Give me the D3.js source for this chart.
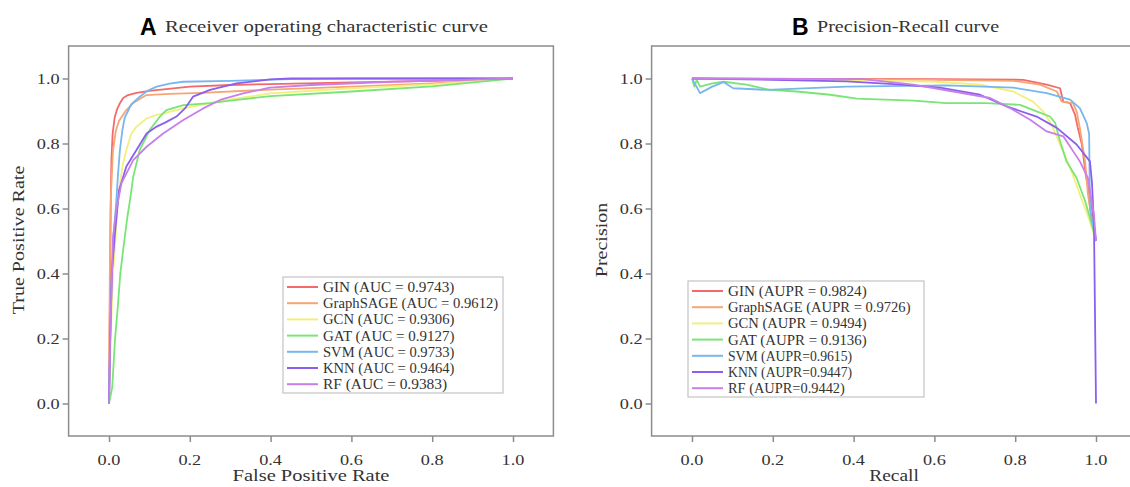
<!DOCTYPE html>
<html><head><meta charset="utf-8">
<script src="https://cdn.jsdelivr.net/npm/d3@7/dist/d3.min.js"></script>
<style>
html,body{margin:0;padding:0;background:#fff;}
svg{display:block;}
</style></head>
<body><svg id="chart" width="1130" height="487"></svg>
<script>
// ---------- data ----------
const models = ["GIN","GraphSAGE","GCN","GAT","SVM","KNN","RF"];
const colors = ["#f26a6a","#f6a575","#f3ef7e","#79e575","#78b6ee","#8b5ef0","#c77fe9"];
const aucLabels = ["GIN (AUC = 0.9743)","GraphSAGE (AUC = 0.9612)","GCN (AUC = 0.9306)","GAT (AUC = 0.9127)","SVM (AUC = 0.9733)","KNN (AUC = 0.9464)","RF (AUC = 0.9383)"];
const auprLabels = ["GIN (AUPR = 0.9824)","GraphSAGE (AUPR = 0.9726)","GCN (AUPR = 0.9494)","GAT (AUPR = 0.9136)","SVM (AUPR=0.9615)","KNN (AUPR=0.9447)","RF (AUPR=0.9442)"];
const ticks = [0.0,0.2,0.4,0.6,0.8,1.0];

// ROC curves [FPR, TPR]
const rocGIN = [[0,0],[0.002,0.3],[0.004,0.6],[0.006,0.75],[0.009,0.83],[0.014,0.88],[0.02,0.905],[0.027,0.924],[0.035,0.94],[0.047,0.949],[0.068,0.956],[0.1,0.962],[0.2,0.975],[0.3,0.98],[0.4,0.983],[0.6,0.988],[0.8,0.993],[1,1]];
const rocGraphSAGE = [[0,0],[0.002,0.4],[0.005,0.65],[0.01,0.78],[0.017,0.84],[0.025,0.87],[0.043,0.903],[0.06,0.925],[0.08,0.94],[0.093,0.949],[0.15,0.953],[0.23,0.956],[0.4,0.966],[0.6,0.975],[0.8,0.985],[1,1]];
const rocGCN = [[0,0],[0.004,0.2],[0.01,0.4],[0.016,0.5],[0.02,0.6],[0.027,0.678],[0.035,0.74],[0.043,0.78],[0.055,0.83],[0.068,0.852],[0.093,0.877],[0.118,0.888],[0.15,0.897],[0.184,0.908],[0.25,0.924],[0.316,0.939],[0.4,0.954],[0.6,0.97],[0.8,0.982],[1,1]];
const rocGAT = [[0,0],[0.008,0.05],[0.015,0.2],[0.022,0.3],[0.028,0.4],[0.035,0.472],[0.045,0.57],[0.052,0.626],[0.06,0.698],[0.076,0.78],[0.101,0.842],[0.126,0.883],[0.142,0.903],[0.184,0.918],[0.25,0.924],[0.316,0.934],[0.4,0.946],[0.6,0.96],[0.8,0.976],[1,1]];
const rocSVM = [[0,0],[0.004,0.3],[0.01,0.5],[0.018,0.62],[0.022,0.7],[0.027,0.78],[0.033,0.84],[0.039,0.88],[0.055,0.92],[0.076,0.944],[0.095,0.962],[0.118,0.975],[0.15,0.984],[0.183,0.99],[0.3,0.993],[0.45,0.998],[0.6,1],[1,1]];
const rocKNN = [[0,0],[0.003,0.2],[0.007,0.4],[0.014,0.513],[0.025,0.657],[0.043,0.729],[0.068,0.78],[0.093,0.831],[0.118,0.852],[0.14,0.865],[0.167,0.883],[0.188,0.908],[0.208,0.944],[0.25,0.965],[0.316,0.985],[0.4,0.997],[0.45,1],[1,1]];
const rocRF = [[0,0],[0.004,0.25],[0.01,0.513],[0.018,0.595],[0.031,0.678],[0.06,0.749],[0.093,0.79],[0.134,0.831],[0.184,0.872],[0.233,0.908],[0.275,0.934],[0.332,0.954],[0.398,0.972],[0.5,0.98],[0.7,0.99],[1,1]];

// PR curves [Recall, Precision]
const prGIN = [[0,1],[0.3,0.999],[0.6,0.998],[0.82,0.996],[0.878,0.981],[0.911,0.97],[0.919,0.929],[0.936,0.924],[0.948,0.889],[0.955,0.848],[0.965,0.797],[0.975,0.7],[0.99,0.6],[1,0.5]];
const prGraphSAGE = [[0,1],[0.3,0.998],[0.6,0.996],[0.795,0.993],[0.861,0.981],[0.903,0.96],[0.915,0.929],[0.943,0.924],[0.952,0.899],[0.96,0.848],[0.973,0.745],[0.98,0.644],[0.99,0.56],[1,0.5]];
const prGCN = [[0,1],[0.2,0.997],[0.4,0.995],[0.6,0.99],[0.713,0.981],[0.795,0.96],[0.844,0.929],[0.869,0.899],[0.89,0.858],[0.911,0.797],[0.936,0.725],[0.96,0.644],[0.985,0.56],[1,0.5]];
const prGAT = [[0,1],[0.006,0.975],[0.012,0.996],[0.02,0.975],[0.05,0.985],[0.078,0.99],[0.135,0.981],[0.193,0.965],[0.259,0.96],[0.342,0.95],[0.408,0.938],[0.548,0.932],[0.63,0.924],[0.729,0.924],[0.812,0.919],[0.853,0.899],[0.886,0.883],[0.899,0.863],[0.911,0.807],[0.927,0.745],[0.952,0.694],[0.973,0.623],[0.99,0.55],[1,0.5]];
const prSVM = [[0,1],[0.02,0.955],[0.05,0.975],[0.078,0.989],[0.102,0.97],[0.185,0.965],[0.383,0.975],[0.63,0.979],[0.795,0.972],[0.878,0.955],[0.936,0.935],[0.96,0.909],[0.977,0.863],[0.983,0.83],[0.985,0.6],[1,0.5]];
const prKNN = [[0,1],[0.2,0.996],[0.383,0.991],[0.5,0.983],[0.614,0.972],[0.713,0.95],[0.779,0.914],[0.853,0.883],[0.903,0.848],[0.952,0.797],[0.985,0.745],[0.99,0.68],[0.995,0.55],[1,0]];
const prRF = [[0,1],[0.2,0.999],[0.424,0.998],[0.548,0.981],[0.647,0.96],[0.738,0.94],[0.787,0.909],[0.837,0.873],[0.878,0.837],[0.919,0.822],[0.96,0.745],[0.98,0.694],[0.995,0.58],[1,0.5]];

const rocSeries = [rocGIN,rocGraphSAGE,rocGCN,rocGAT,rocSVM,rocKNN,rocRF];
const prSeries = [prGIN,prGraphSAGE,prGCN,prGAT,prSVM,prKNN,prRF];

// ---------- drawing ----------
const svg = d3.select("#chart");
const FONT = "'Liberation Serif', 'DejaVu Serif', serif";
const TXT = "#333";
const FRAME = "#8c8c8c";

function mtext(g, str, x, y, size, cw, anchor){
  const t = g.append("text").attr("x",x).attr("y",y)
    .attr("font-family",FONT).attr("font-size",size).attr("fill",TXT)
    .attr("text-anchor",anchor||"start").text(str);
  t.attr("textLength", str.length*cw).attr("lengthAdjust","spacingAndGlyphs");
  return t;
}

function panel(opts){
  const x = d3.scaleLinear().domain([-0.1,1.1]).range([opts.x0, opts.x1]);
  const y = d3.scaleLinear().domain([-0.1,1.1]).range([436,46]);
  const g = svg.append("g");
  const clipId = "clip"+opts.letter;
  svg.append("clipPath").attr("id",clipId).append("rect")
    .attr("x",x(-0.1)).attr("y",y(1.1)).attr("width",x(1.1)-x(-0.1)).attr("height",y(-0.1)-y(1.1));

  // axes
  const xa = g.append("g").attr("transform",`translate(0,${y(-0.1)})`)
    .call(d3.axisBottom(x).tickValues(ticks).tickSize(6).tickFormat(""));
  const ya = g.append("g").attr("transform",`translate(${x(-0.1)},0)`)
    .call(d3.axisLeft(y).tickValues(ticks).tickSize(6).tickFormat(""));
  [xa,ya].forEach(a=>{ a.select(".domain").remove(); a.selectAll("line").attr("stroke",FRAME).attr("stroke-width",1.5); });
  ticks.forEach(v=>{
    mtext(g, d3.format(".1f")(v), x(v), 465, 15, 7.6, "middle");
    mtext(g, d3.format(".1f")(v), x(-0.1)-9, y(v)+5, 15, 7.6, "end");
  });

  // curves
  const line = d3.line().x(d=>x(d[0])).y(d=>y(d[1]));
  const cg = g.append("g").attr("clip-path",`url(#${clipId})`);
  opts.series.forEach((s,i)=>{
    cg.append("path").datum(s).attr("d",line).attr("fill","none")
      .attr("stroke",colors[i]).attr("stroke-width",1.8).attr("stroke-linejoin","round");
  });

  // frame
  g.append("rect").attr("x",x(-0.1)).attr("y",y(1.1))
    .attr("width",x(1.1)-x(-0.1)).attr("height",y(-0.1)-y(1.1))
    .attr("fill","none").attr("stroke",FRAME).attr("stroke-width",1.5);

  // title
  g.append("text").attr("x",opts.titleX).attr("y",35).attr("font-family","'Liberation Sans', Arial, sans-serif")
    .attr("font-weight","bold").attr("font-size",23).attr("fill","#000").text(opts.letter);
  mtext(g, opts.title, opts.titleX+25, 32, 16.5, 8.28, "start");

  // axis labels
  mtext(g, opts.xlabel, x(0.5), 481, 16, 8.26, "middle");
  const yl = mtext(g, opts.ylabel, 0, 0, 16.5, 8.26, "middle");
  yl.attr("transform",`translate(${opts.ylabX},240) rotate(-90)`);

  // legend
  const L = opts.legend;
  const lg = g.append("g");
  lg.append("rect").attr("x",L.x).attr("y",L.y).attr("width",L.w).attr("height",L.h)
    .attr("fill","#fff").attr("stroke","#c4c4c4").attr("stroke-width",1.2);
  opts.labels.forEach((lab,i)=>{
    const yy = L.y + 10 + i*16.2;
    lg.append("line").attr("x1",L.x+4).attr("x2",L.x+35).attr("y1",yy).attr("y2",yy)
      .attr("stroke",colors[i]).attr("stroke-width",2);
    mtext(lg, lab, L.x+40, yy+5, 14.5, 7.3, "start");
  });
}

panel({letter:"A", x0:68.6, x1:553.4, series:rocSeries, labels:aucLabels,
  title:"Receiver operating characteristic curve", titleX:140,
  xlabel:"False Positive Rate", ylabel:"True Positive Rate", ylabX:24,
  legend:{x:283,y:277,w:220,h:116}});
panel({letter:"B", x0:651.6, x1:1136.4, series:prSeries, labels:auprLabels,
  title:"Precision-Recall curve", titleX:792,
  xlabel:"Recall", ylabel:"Precision", ylabX:607,
  legend:{x:688,y:281,w:236,h:116}});
</script></body></html>
